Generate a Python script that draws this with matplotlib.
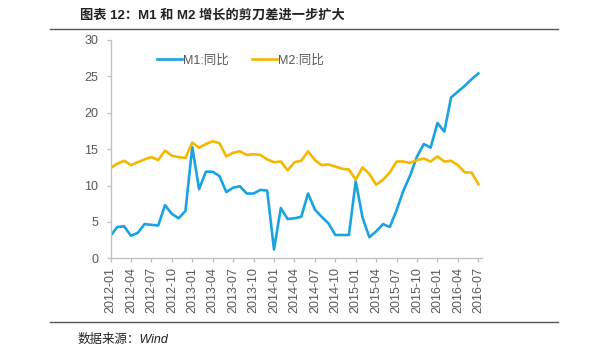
import numpy as np
import matplotlib
matplotlib.use("Agg")
import matplotlib.pyplot as plt
from matplotlib.lines import Line2D

plt.rcParams['font.family'] = ['Liberation Sans', 'Noto Sans CJK SC', 'DejaVu Sans']

# monthly data, 2012-01 .. 2016-07
months = ["%d-%02d" % (y, m) for y in range(2012, 2017) for m in range(1, 13)][:55]
m1 = [3.1, 4.3, 4.4, 3.1, 3.5, 4.7, 4.6, 4.5, 7.3, 6.1, 5.5, 6.5,
      15.3, 9.5, 11.9, 11.9, 11.3, 9.1, 9.7, 9.9, 8.9, 8.9, 9.4, 9.3,
      1.2, 6.9, 5.4, 5.5, 5.7, 8.9, 6.7, 5.7, 4.8, 3.2, 3.2, 3.2,
      10.6, 5.6, 2.9, 3.7, 4.7, 4.3, 6.6, 9.3, 11.4, 14.0, 15.7, 15.2,
      18.6, 17.4, 22.1, 22.9, 23.7, 24.6, 25.4]
m2 = [12.4, 13.0, 13.4, 12.8, 13.2, 13.6, 13.9, 13.5, 14.8, 14.1, 13.9, 13.8,
      15.9, 15.2, 15.7, 16.1, 15.8, 14.0, 14.5, 14.7, 14.2, 14.3, 14.2, 13.6,
      13.2, 13.3, 12.1, 13.2, 13.4, 14.7, 13.5, 12.8, 12.9, 12.6, 12.3, 12.2,
      10.8, 12.5, 11.6, 10.1, 10.8, 11.8, 13.3, 13.3, 13.1, 13.5, 13.7, 13.3,
      14.0, 13.3, 13.4, 12.8, 11.8, 11.8, 10.2]
labels = ["M1:同比", "M2:同比"]
title = "图表 12：M1 和 M2 增长的剪刀差进一步扩大"
source = "数据来源：Wind"

c_m1 = '#1aa3e0'
c_m2 = '#f5b800'
grey = '#595959'

fig = plt.figure(figsize=(6.0, 3.53), dpi=100)
ax = fig.add_axes([0.1842, 0.2683, 0.6187, 0.6184])

x = np.arange(len(months))
ax.plot(x, m1, color=c_m1, lw=1.9, label=labels[0])
ax.plot(x, m2, color=c_m2, lw=1.9, label=labels[1])

ax.set_xlim(0, 54.5)
ax.set_ylim(0, 30)
ax.set_yticks(range(0, 31, 5))
ax.set_xticks(x[::3])
ax.set_xticklabels(months[::3], rotation=90)

for s in ['top', 'right']:
    ax.spines[s].set_visible(False)
for s in ['left', 'bottom']:
    ax.spines[s].set_color('#bfbfbf')
    ax.spines[s].set_linewidth(0.9)
ax.tick_params(axis='both', colors='#bfbfbf', labelcolor=grey, length=3,
               width=0.9, labelsize=9)
ax.tick_params(axis='y', pad=6)

ax.legend(loc='center', bbox_to_anchor=(0.35, 0.906), ncol=2, frameon=False,
          fontsize=9, handlelength=2.0, handletextpad=0.1, columnspacing=1.8,
          labelcolor=grey)

# title, rules and source
fig.text(0.133, 0.955, title, fontsize=9.5, fontweight='bold', color='#222222',
         va='center', ha='left')
fig.add_artist(Line2D([50/600, 558/600], [1-29/353, 1-29/353], color='#555555', lw=1.0))
fig.add_artist(Line2D([50/600, 558/600], [1-322/353, 1-322/353], color='#555555', lw=1.0))
fig.text(0.13, 1-340/353, source, fontsize=9, style='italic', color='#222222',
         va='center', ha='left')

fig.savefig("out.png", dpi=100)
